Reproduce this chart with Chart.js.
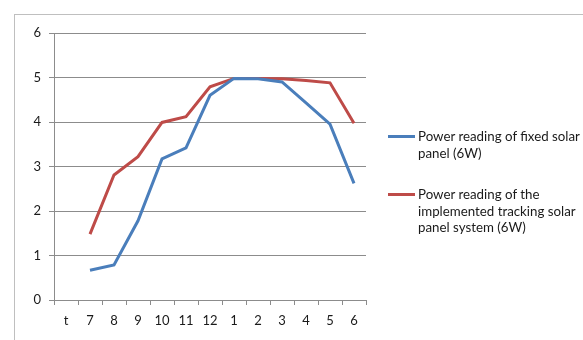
<!DOCTYPE html>
<html>
<head>
<meta charset="utf-8">
<script src="https://cdn.jsdelivr.net/npm/chart.js@4.4.0/dist/chart.umd.min.js"></script>
<style>
  html, body { margin: 0; padding: 0; background: #fff; }
  #wrap { position: relative; width: 583px; height: 340px; overflow: hidden; }
  #frame { position: absolute; left: 14px; top: 14px; width: 620px; height: 400px; border: 1px solid #bfbfbf; }
  #chart { position: absolute; left: 0; top: 0; }
  .legend { position: absolute; left: 388px; font-family: Lato, sans-serif; font-size: 13.3px; line-height: 16.5px; color: #1a1a1a; }
  .legend .swatch { position: absolute; left: 0; top: 7px; width: 27px; height: 3px; }
  .legend .text { position: absolute; left: 30px; top: 0; white-space: nowrap; }
</style>
</head>
<body>
<div id="wrap">
  <div id="frame"></div>
  <canvas id="chart" width="583" height="340"></canvas>
  <div class="legend" style="top:128px">
    <div class="swatch" style="background:#4A7EBB"></div>
    <div class="text">Power reading of fixed solar<br>panel (6W)</div>
  </div>
  <div class="legend" style="top:186px">
    <div class="swatch" style="background:#BE4B48"></div>
    <div class="text">Power reading of the<br>implemented tracking solar<br>panel system (6W)</div>
  </div>
</div>
<script>
// hours of the day (t = unlabeled first slot)
const hours = ['t', '7', '8', '9', '10', '11', '12', '1', '2', '3', '4', '5', '6'];
const fixedPanel = [null, 0.67, 0.79, 1.78, 3.17, 3.42, 4.6, 4.98, 4.97, 4.9, 4.43, 3.95, 2.62];
const trackingPanel = [null, 1.48, 2.81, 3.22, 3.99, 4.12, 4.79, 4.98, 4.98, 4.97, 4.93, 4.88, 3.97];
const yTicks = [0, 1, 2, 3, 4, 5, 6];

const gridColor = '#8c8c8c';
const tickFont = { family: 'Lato, sans-serif', size: 13 };

new Chart(document.getElementById('chart'), {
    type: 'line',
    data: {
        labels: hours,
        datasets: [
            {
                label: 'Power reading of fixed solar panel (6W)',
                data: fixedPanel,
                borderColor: '#4A7EBB',
                borderWidth: 3,
                pointRadius: 0,
                tension: 0
            },
            {
                label: 'Power reading of the implemented tracking solar panel system (6W)',
                data: trackingPanel,
                borderColor: '#BE4B48',
                borderWidth: 3,
                pointRadius: 0,
                tension: 0
            }
        ]
    },
    options: {
        responsive: false,
        animation: false,
        layout: { padding: { left: 14, top: 33, right: 217, bottom: 0 } },
        plugins: {
            legend: { display: false },
            tooltip: { enabled: false }
        },
        scales: {
            x: {
                offset: true,
                grid: { display: true, drawOnChartArea: false, offset: true, color: gridColor, tickLength: 5 },
                border: { color: gridColor },
                ticks: { color: '#1a1a1a', font: tickFont, padding: 8, maxRotation: 0, autoSkip: false },
                afterFit: (s) => { s.height = 40; }
            },
            y: {
                min: yTicks[0],
                max: yTicks[yTicks.length - 1],
                afterBuildTicks: (s) => { s.ticks = yTicks.map(v => ({ value: v })); },
                grid: { color: gridColor, tickLength: 5 },
                border: { color: gridColor },
                ticks: { color: '#1a1a1a', font: tickFont, padding: 8 },
                afterFit: (s) => { s.width = 40; }
            }
        }
    }
});
</script>
</body>
</html>
